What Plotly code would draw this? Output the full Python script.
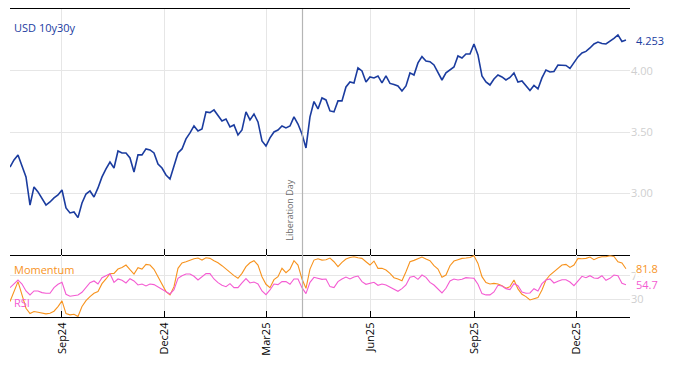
import pandas as pd
import plotly.graph_objects as go

# ---- data ----
start_date = "2024-07-17"
step = "85h"   # ~3.5 days between samples

usd_10y30y = [
    3.214, 3.272, 3.313, 3.223, 3.133, 2.903, 3.051, 3.010, 2.961, 2.903,
    2.928, 2.961, 2.985, 3.026, 2.879, 2.838, 2.846, 2.800, 2.920, 2.993,
    3.018, 2.969, 3.043, 3.133, 3.198, 3.255, 3.206, 3.345, 3.329, 3.329,
    3.288, 3.173, 3.313, 3.313, 3.362, 3.354, 3.329, 3.239, 3.206, 3.149,
    3.116, 3.214, 3.329, 3.362, 3.444, 3.493, 3.550, 3.509, 3.525, 3.665,
    3.659, 3.681, 3.636, 3.591, 3.607, 3.542, 3.558, 3.476, 3.517, 3.665,
    3.599, 3.648, 3.583, 3.427, 3.386, 3.452, 3.501, 3.517, 3.550, 3.534,
    3.550, 3.624, 3.566, 3.484, 3.370, 3.624, 3.750, 3.689, 3.779, 3.763,
    3.673, 3.665, 3.755, 3.755, 3.869, 3.910, 3.902, 4.025, 4.000, 3.910,
    3.951, 3.943, 3.959, 3.902, 3.959, 3.898, 3.890, 3.877, 3.836, 3.877,
    3.984, 3.967, 4.066, 4.117, 4.082, 4.076, 4.049, 3.984, 3.926, 3.984,
    4.008, 4.033, 4.123, 4.106, 4.139, 4.139, 4.221, 4.131, 3.959, 3.910,
    3.885, 3.934, 3.967, 3.951, 3.926, 3.947, 3.984, 3.910, 3.918, 3.881,
    3.840, 3.881, 3.853, 3.943, 4.008, 3.992, 3.996, 4.049, 4.049, 4.045,
    4.021, 4.066, 4.115, 4.147, 4.160, 4.188, 4.221, 4.237, 4.225, 4.221,
    4.241, 4.266, 4.295, 4.241, 4.253,
]

momentum = [
    26.1, 43.0, 59.9, 37.4, 14.8, 5.8, 9.2, 8.1, 6.4, 5.3,
    6.4, 9.8, 17.7, 27.2, 5.8, 3.6, 4.7, 0.8, 17.7, 27.8,
    34.5, 40.2, 43.0, 56.5, 64.4, 73.4, 73.9, 81.2, 84.0, 88.0,
    80.1, 72.8, 83.5, 81.2, 89.1, 88.0, 80.7, 68.3, 54.8, 43.0,
    37.4, 51.4, 82.4, 91.4, 93.6, 96.4, 98.7, 99.8, 96.4, 100.4,
    99.3, 95.3, 91.9, 86.9, 80.7, 75.6, 70.0, 65.5, 73.9, 85.2,
    91.9, 95.3, 88.0, 68.3, 55.4, 49.7, 63.2, 68.3, 82.4, 75.0,
    81.2, 95.3, 88.0, 64.4, 48.6, 81.2, 96.4, 98.7, 96.4, 97.0,
    99.8, 93.6, 85.2, 92.5, 98.1, 100.9, 102.1, 100.4, 99.3, 93.6,
    88.0, 94.7, 82.4, 82.4, 79.6, 73.9, 66.6, 64.4, 61.5, 76.7,
    93.6, 95.9, 98.1, 101.5, 98.1, 95.3, 86.9, 81.2, 67.2, 71.1,
    86.9, 94.7, 97.0, 99.3, 99.8, 100.9, 103.7, 90.8, 68.3, 58.2,
    55.9, 57.0, 55.9, 53.1, 48.6, 51.4, 62.7, 47.5, 38.5, 34.5,
    28.9, 30.6, 32.8, 45.8, 62.7, 71.1, 76.7, 82.4, 88.0, 89.1,
    84.0, 88.0, 99.3, 98.7, 99.3, 101.5, 97.0, 100.4, 102.1, 102.1,
    103.7, 102.6, 93.6, 91.4, 81.8,
]

rsi = [
    49.7, 55.9, 62.7, 55.9, 44.1, 37.4, 44.1, 44.1, 41.3, 40.2,
    40.2, 49.7, 55.4, 58.7, 38.5, 35.1, 35.7, 37.4, 41.9, 49.7,
    58.2, 61.0, 55.9, 66.6, 70.5, 73.4, 58.7, 64.4, 62.1, 57.6,
    64.9, 61.0, 54.2, 55.9, 52.5, 55.9, 54.8, 50.9, 46.4, 42.4,
    39.0, 46.4, 65.5, 70.0, 72.8, 72.8, 68.9, 62.7, 68.9, 73.4,
    73.4, 64.4, 58.2, 53.7, 51.4, 56.5, 49.7, 49.7, 57.6, 64.9,
    57.6, 59.3, 55.9, 44.1, 37.9, 45.8, 55.9, 54.8, 59.9, 59.9,
    55.4, 64.4, 64.4, 49.7, 39.6, 58.7, 67.2, 66.0, 63.8, 64.4,
    51.4, 49.7, 59.9, 64.4, 67.7, 64.4, 67.7, 69.4, 59.9, 55.4,
    57.6, 58.7, 53.7, 55.9, 54.2, 50.3, 46.4, 43.5, 48.0, 54.2,
    67.2, 68.9, 63.8, 71.1, 67.2, 58.7, 54.2, 48.0, 40.7, 48.6,
    61.0, 64.4, 62.7, 63.8, 66.6, 66.0, 65.5, 55.4, 39.6, 37.4,
    37.4, 42.4, 53.7, 52.5, 48.0, 46.4, 56.5, 53.1, 42.4, 40.2,
    40.7, 48.0, 44.1, 56.5, 62.7, 64.4, 57.6, 60.4, 63.2, 63.2,
    59.3, 53.1, 61.5, 68.9, 66.6, 70.0, 66.0, 65.5, 70.0, 62.1,
    65.5, 71.1, 70.0, 57.0, 54.7,
]

main_ticks = [3.0, 3.5, 4.0]
osc_ticks = [30, 70]
event_date = "2025-04-02"
event_label = "Liberation Day"
x_range = ["2024-07-17", "2026-01-17"]

dates = pd.date_range(start_date, periods=len(usd_10y30y), freq=step)

BLUE = "#1b3c9f"
ORANGE = "#f7931e"
MAGENTA = "#f45bd2"
GRID = "#e6e6e6"
TICKGREY = "#cfcfcf"
FONT = "Open Sans"

fig = go.Figure()
fig.add_trace(go.Scatter(x=dates, y=usd_10y30y, mode="lines",
                         line=dict(color=BLUE, width=1.6), xaxis="x", yaxis="y",
                         showlegend=False, hoverinfo="skip"))
fig.add_trace(go.Scatter(x=dates, y=momentum, mode="lines",
                         line=dict(color=ORANGE, width=1.1), xaxis="x2", yaxis="y2",
                         showlegend=False, hoverinfo="skip"))
fig.add_trace(go.Scatter(x=dates, y=rsi, mode="lines",
                         line=dict(color=MAGENTA, width=1.1), xaxis="x2", yaxis="y2",
                         showlegend=False, hoverinfo="skip"))

split = 62 / 308

common_x = dict(type="date", range=x_range, tick0="2024-09-01", dtick="M3",
                showgrid=True, gridcolor=GRID, gridwidth=1,
                showline=True, linecolor="black", linewidth=1.3,
                ticks="inside", ticklen=6, tickcolor="black", tickwidth=1,
                zeroline=False)

# page body has an 8px default margin on every side: keep the figure inside
# the 674x366 window (658x350) with the plot area at x 10..630, y 9..317
fig.update_layout(
    width=658, height=350,
    margin=dict(l=2, r=36, t=1, b=41),
    paper_bgcolor="white", plot_bgcolor="white",
    font=dict(family=FONT, size=11, color="black"),
    xaxis=dict(**common_x, domain=[0, 1], anchor="y", showticklabels=False,
               mirror=True),
    yaxis=dict(domain=[split, 1], anchor="x", side="right", range=[2.494, 4.507],
               tickvals=main_ticks, tickformat=".2f", showgrid=True, gridcolor=GRID,
               showline=False, zeroline=False, ticks="",
               tickfont=dict(color=TICKGREY, size=11, family=FONT)),
    xaxis2=dict(**common_x, domain=[0, 1], anchor="y2", showticklabels=True,
                tickformat="%b%y", tickangle=-90,
                tickfont=dict(size=11, color="black", family=FONT)),
    yaxis2=dict(domain=[0, split], anchor="x2", side="right", range=[0, 105],
                tickvals=osc_ticks, showgrid=True, gridcolor=GRID,
                showline=False, zeroline=False, ticks="",
                tickfont=dict(color=TICKGREY, size=11, family=FONT)),
)

# event line spanning both panels
fig.add_shape(type="line", xref="x", yref="paper", x0=event_date, x1=event_date,
              y0=0, y1=1, line=dict(color="#b5b5b5", width=1.2), layer="above")
fig.add_annotation(x=event_date, xref="x", y=2.59, yref="y", text=event_label,
                   textangle=-90, showarrow=False, xanchor="right", yanchor="bottom",
                   xshift=-4, font=dict(size=9, color="#6a6a6a", family=FONT))

# panel labels
fig.add_annotation(x=0, xref="paper", y=1, yref="paper", text="USD 10y30y",
                   showarrow=False, xanchor="left", yanchor="top", xshift=2, yshift=-9,
                   font=dict(size=11, color=BLUE, family=FONT))
fig.add_annotation(x=0, xref="paper", y=split, yref="paper", text="Momentum",
                   showarrow=False, xanchor="left", yanchor="top", xshift=2, yshift=-5,
                   font=dict(size=11, color=ORANGE, family=FONT))
fig.add_annotation(x=0, xref="paper", y=0, yref="paper", text="RSI",
                   showarrow=False, xanchor="left", yanchor="bottom", xshift=2, yshift=5,
                   font=dict(size=11, color=MAGENTA, family=FONT))

# last-value labels on the right
fig.add_annotation(x=1, xref="paper", y=usd_10y30y[-1], yref="y",
                   text=f"{usd_10y30y[-1]:.3f}", showarrow=False, xanchor="left",
                   xshift=5, bgcolor="white", borderpad=0,
                   font=dict(size=11, color=BLUE, family=FONT))
fig.add_annotation(x=1, xref="paper", y=momentum[-1], yref="y2",
                   text=f"{momentum[-1]:.1f}", showarrow=False, xanchor="left",
                   xshift=5, bgcolor="white", borderpad=0,
                   font=dict(size=11, color=ORANGE, family=FONT))
fig.add_annotation(x=1, xref="paper", y=rsi[-1], yref="y2",
                   text=f"{rsi[-1]:.1f}", showarrow=False, xanchor="left",
                   xshift=5, bgcolor="white", borderpad=0,
                   font=dict(size=11, color=MAGENTA, family=FONT))

fig.write_html("out.html")
